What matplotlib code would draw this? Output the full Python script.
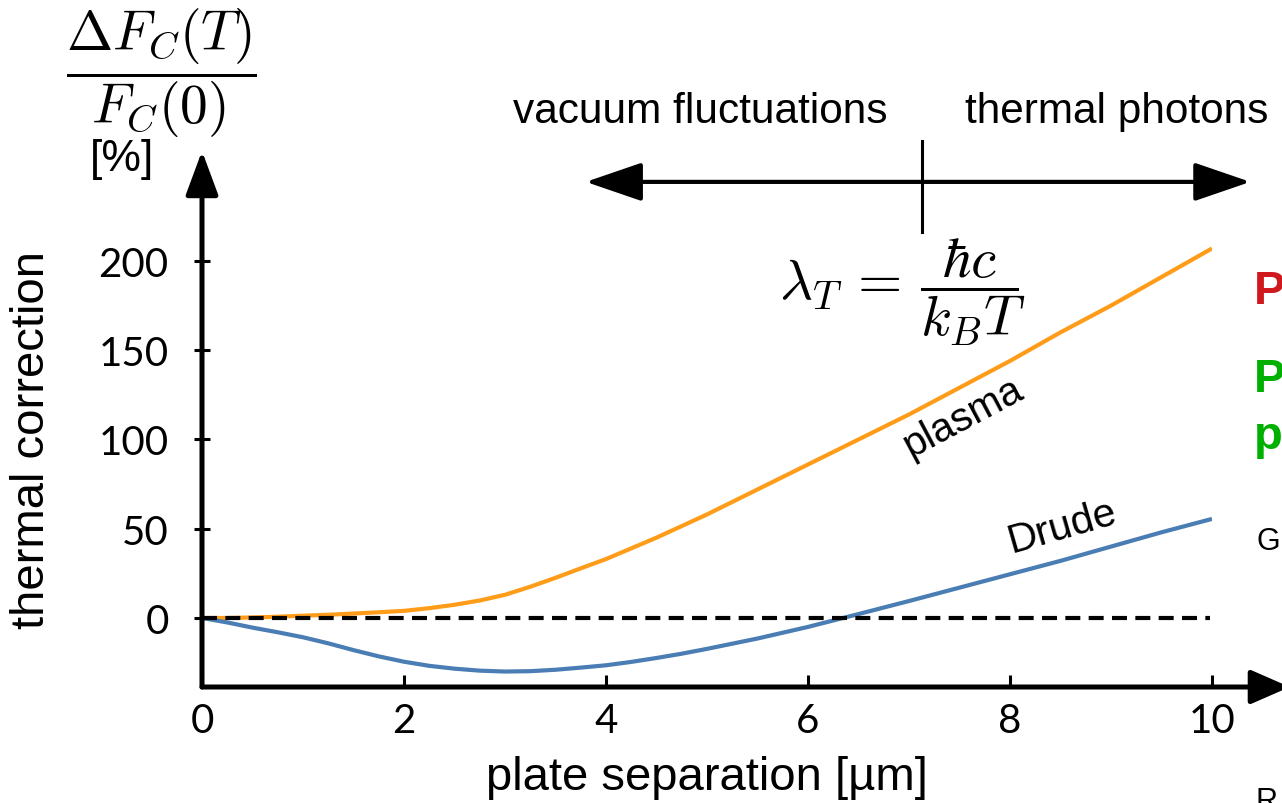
import numpy as np
import matplotlib
matplotlib.use("Agg")
import matplotlib.pyplot as plt
from matplotlib.patches import FancyArrowPatch

plt.rcParams['mathtext.fontset'] = 'cm'

# plate separation in micrometres
separation = [0, 0.25, 0.5, 0.75, 1, 1.25, 1.5, 1.75, 2, 2.25, 2.5, 2.75, 3, 3.25, 3.5, 3.75,
              4, 4.25, 4.5, 4.75, 5, 5.5, 6, 6.5, 7, 7.5, 8, 8.5, 9, 9.5, 10]
# thermal correction in percent
plasma = [0, 0, 0.3, 0.7, 1.3, 1.8, 2.5, 3.2, 4, 5.5, 7.4, 9.8, 13, 17.5, 22.5, 27.8,
          33, 39, 45, 51.5, 58, 72, 86, 100, 114, 129, 144, 160, 175, 191, 207]
drude = [0, -2.5, -5.4, -8, -10.8, -14.2, -18, -21.5, -24.5, -26.8, -28.4, -29.5, -30, -29.8, -29, -27.8,
         -26.5, -24.6, -22.4, -20, -17.3, -11.5, -5, 2.2, 9.5, 17, 24.5, 32, 40, 48, 55.5]
yticks = [0, 50, 100, 150, 200]
xticks = [0, 2, 4, 6, 8, 10]

W, H = 1282, 804

def px(x, y):
    return x / W, 1 - y / H

sans = 'Liberation Sans'

fig = plt.figure(figsize=(W / 100, H / 100), dpi=100)
left, right = 202, 1212
bottom, top = 688, 152
ax = fig.add_axes([left / W, 1 - bottom / H, (right - left) / W, (bottom - top) / H])
ymin, ymax = -38.66, 261.6
ax.set_xlim(0, 10)
ax.set_ylim(ymin, ymax)
for s in ax.spines.values():
    s.set_visible(False)

ax.axhline(0, xmax=0.998, color='black', lw=3, ls=(0, (3.6, 2.0)), zorder=4)
ax.plot(separation, plasma, color='#ff9c1a', lw=3, zorder=3, solid_capstyle='butt')
ax.plot(separation, drude, color='#4a7db4', lw=3, zorder=3, solid_capstyle='butt')

ax.set_xticks(xticks)
ax.set_yticks(yticks)
ax.tick_params(axis='y', direction='inout', length=12, width=2.2, pad=18,
               labelsize=29, labelfontfamily='Lato')
ax.tick_params(axis='x', direction='in', length=9, width=2.2, pad=11,
               labelsize=29, labelfontfamily='Lato')

# axes drawn as arrows
ax.add_patch(FancyArrowPatch((0, ymin), (10.77, ymin), arrowstyle='-|>,head_length=2.4,head_width=1.05',
                             mutation_scale=10, lw=3.6, color='black', shrinkA=0, shrinkB=0,
                             clip_on=False, zorder=5))
ax.add_patch(FancyArrowPatch((0, ymin), (0, ymax), arrowstyle='-|>,head_length=2.7,head_width=1.0',
                             mutation_scale=10, lw=3.6, color='black', shrinkA=0, shrinkB=0,
                             clip_on=False, zorder=5))

# thermal wavelength marker
ax.add_patch(FancyArrowPatch((3.80, 244.3), (10.38, 244.3), arrowstyle='<|-|>,head_length=3.5,head_width=1.2',
                             mutation_scale=10, lw=3, color='black', shrinkA=0, shrinkB=0,
                             clip_on=False, zorder=5))
ax.plot([7.13, 7.13], [216.2, 267.2], color='black', lw=2.2, clip_on=False)

fig.text(*px(700, 112), 'vacuum fluctuations', fontsize=30.5, family=sans, ha='center', va='center')
fig.text(*px(1117, 112), 'thermal photons', fontsize=30.5, family=sans, ha='center', va='center')
fig.text(*px(902, 292), r'$\lambda_T\,=\,\dfrac{\hbar c}{k_B T}$', fontsize=41, ha='center', va='center')

fig.text(*px(161, 73), r'$\dfrac{\Delta F_C(T)}{F_C(0)}$', fontsize=40, ha='center', va='center')
fig.text(*px(122, 160), '[%]', fontsize=32, family=sans, ha='center', va='center')
fig.text(*px(32, 440), 'thermal correction', fontsize=34, family=sans, rotation=90, ha='center', va='center')
fig.text(*px(707, 778), 'plate separation [µm]', fontsize=34, family=sans, ha='center', va='center')

ax.text(7.53, 113, 'plasma', fontsize=29, family=sans, rotation=28, ha='center', va='center',
        rotation_mode='anchor')
ax.text(8.52, 51.5, 'Drude', fontsize=29.5, family=sans, rotation=16, ha='center', va='center',
        rotation_mode='anchor')

# legend entries at the right edge
fig.text(*px(1254, 292), 'P', fontsize=34, family=sans, weight='bold', color='#d0191f', va='center')
fig.text(*px(1254, 380), 'Pe', fontsize=34, family=sans, weight='bold', color='#00b000', va='center')
fig.text(*px(1254, 437), 'p', fontsize=34, family=sans, weight='bold', color='#00b000', va='center')
fig.text(*px(1256, 542), 'G', fontsize=22, family=sans, va='center')
fig.text(*px(1256, 787), 'R', fontsize=22, family=sans, va='top')

fig.savefig('out.png', dpi=100)
